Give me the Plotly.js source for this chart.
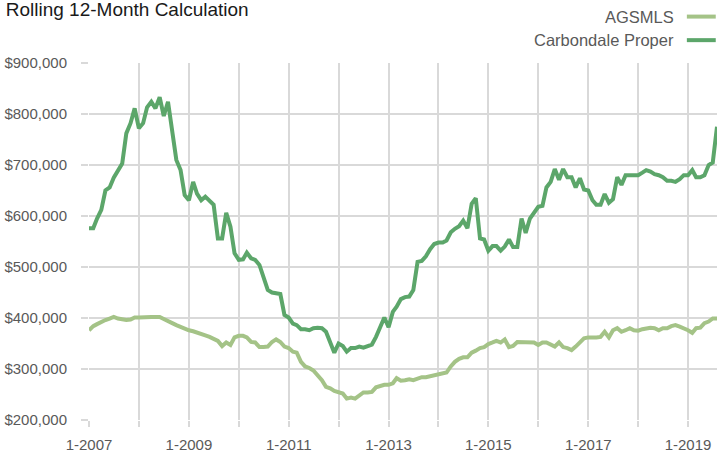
<!DOCTYPE html>
<html>
<head>
<meta charset="utf-8">
<script src="https://cdn.plot.ly/plotly-3.0.1.min.js"></script>
<style>
  html, body { margin: 0; padding: 0; background: #ffffff; }
  #chart { width: 718px; height: 453px; }
</style>
</head>
<body>
<div id="chart"></div>
<script>
// ---- Data ----
const startYear = 2007;   // first month: January 2007
const monthCount = 152;   // through August 2019

const seriesNames = ["AGSMLS", "Carbondale Proper"];

const agsmls = [
  376000, 384000, 388000, 393000, 396000, 399000, 402000, 399000, 397000, 396000, 397000, 401000,
  401000, 402000, 402000, 402000, 402000, 402000, 398000, 393000, 390000, 386000, 382000, 378000,
  376000, 374000, 372000, 369000, 366000, 363000, 360000, 355000, 345000, 352000, 347000, 362000,
  365000, 365000, 362000, 353000, 352000, 343000, 343000, 344000, 353000, 358000, 353000, 344000,
  341000, 334000, 332000, 314000, 305000, 302000, 297000, 288000, 278000, 265000, 262000, 257000,
  255000, 252000, 242000, 244000, 242000, 249000, 254000, 254000, 255000, 264000, 267000, 269000,
  269000, 272000, 282000, 277000, 278000, 280000, 278000, 282000, 284000, 284000, 286000, 288000,
  290000, 293000, 293000, 305000, 314000, 320000, 323000, 323000, 332000, 336000, 341000, 343000,
  349000, 352000, 355000, 352000, 358000, 343000, 345000, 353000, 353000, 352000, 352000, 352000,
  347000, 352000, 352000, 347000, 344000, 352000, 343000, 341000, 337000, 344000, 352000, 360000,
  362000, 361000, 362000, 363000, 373000, 362000, 376000, 380000, 373000, 376000, 380000, 376000,
  375000, 378000, 380000, 381000, 380000, 376000, 380000, 380000, 384000, 386000, 383000, 380000,
  376000, 371000, 380000, 381000, 390000, 393000, 399000, 399000
];

const carbondale = [
  576000, 576000, 595000, 612000, 650000, 656000, 675000, 688000, 703000, 762000, 782000, 811000,
  772000, 782000, 813000, 824000, 811000, 833000, 796000, 824000, 759000, 710000, 690000, 641000,
  631000, 667000, 644000, 631000, 638000, 631000, 622000, 556000, 556000, 606000, 579000, 527000,
  514000, 515000, 528000, 517000, 514000, 504000, 478000, 455000, 450000, 448000, 447000, 406000,
  401000, 389000, 386000, 378000, 378000, 376000, 380000, 381000, 380000, 373000, 353000, 332000,
  350000, 345000, 334000, 341000, 341000, 344000, 342000, 344000, 348000, 363000, 383000, 401000,
  382000, 412000, 422000, 437000, 441000, 442000, 455000, 510000, 512000, 521000, 535000, 545000,
  548000, 548000, 552000, 568000, 575000, 580000, 591000, 576000, 624000, 635000, 556000, 554000,
  532000, 541000, 541000, 532000, 540000, 554000, 539000, 539000, 595000, 567000, 595000, 608000,
  618000, 620000, 656000, 667000, 692000, 671000, 692000, 676000, 676000, 656000, 674000, 652000,
  650000, 631000, 622000, 622000, 643000, 626000, 633000, 676000, 661000, 680000, 680000, 680000,
  680000, 685000, 690000, 687000, 682000, 680000, 676000, 669000, 669000, 667000, 672000, 680000,
  680000, 690000, 676000, 676000, 680000, 700000, 705000, 775000
];

const tickYears = [2007, 2008, 2009, 2010, 2011, 2012, 2013, 2014, 2015, 2016, 2017, 2018, 2019];
const tickLabels = ["1-2007", "", "1-2009", "", "1-2011", "", "1-2013", "", "1-2015", "", "1-2017", "", "1-2019"];

const colors = ["#a4c387", "#5ca66a"];

// ---- Build month dates ----
const months = [];
for (let i = 0; i < monthCount; i++) {
  const y = startYear + Math.floor(i / 12);
  const m = (i % 12) + 1;
  months.push(y + "-" + String(m).padStart(2, "0") + "-01");
}
const tickVals = tickYears.map(y => y + "-01-01");

const traces = [
  { x: months, y: agsmls, name: seriesNames[0], type: "scatter", mode: "lines",
    line: { color: colors[0], width: 4 } },
  { x: months, y: carbondale, name: seriesNames[1], type: "scatter", mode: "lines",
    line: { color: colors[1], width: 4 } }
];

const font = "Liberation Sans, Arial, Helvetica, sans-serif";
const gridColor = "#d9d9d9";

const layout = {
  width: 718, height: 453,
  margin: { l: 89, r: 1, t: 63, b: 33, pad: 0 },
  paper_bgcolor: "#ffffff", plot_bgcolor: "#ffffff",
  showlegend: false,
  font: { family: font, size: 15, color: "#595959" },
  title: { text: "Rolling 12-Month Calculation", x: 0.008, xanchor: "left", y: 0.994, yanchor: "top",
           font: { family: font, size: 19, color: "#1a1a1a" } },
  xaxis: {
    type: "date",
    range: [months[0], months[monthCount - 1]],
    tickmode: "array", tickvals: tickVals, ticktext: tickLabels,
    showgrid: true, gridcolor: gridColor, gridwidth: 2,
    ticks: "outside", ticklen: 6, tickwidth: 2, tickcolor: gridColor,
    ticklabelstandoff: 5,
    showline: false, zeroline: false,
    tickfont: { family: font, size: 15, color: "#595959" }
  },
  yaxis: {
    range: [200000, 900000], dtick: 100000, tick0: 200000,
    tickformat: "$,.0f",
    showgrid: true, gridcolor: gridColor, gridwidth: 2,
    ticks: "outside", ticklen: 7, tickwidth: 2, tickcolor: gridColor,
    ticklabelstandoff: 11,
    showline: false, zeroline: false,
    tickfont: { family: font, size: 15, color: "#595959" }
  },
  annotations: [
    { xref: "paper", yref: "paper", x: 0.934, y: 1.13, xanchor: "right", yanchor: "middle",
      text: seriesNames[0], showarrow: false, font: { family: font, size: 16.5, color: "#595959" } },
    { xref: "paper", yref: "paper", x: 0.934, y: 1.065, xanchor: "right", yanchor: "middle",
      text: seriesNames[1], showarrow: false, font: { family: font, size: 16.5, color: "#595959" } }
  ],
  shapes: [
    { type: "line", xref: "paper", yref: "paper", x0: 0.952, x1: 0.998, y0: 1.13, y1: 1.13,
      line: { color: colors[0], width: 4 } },
    { type: "line", xref: "paper", yref: "paper", x0: 0.952, x1: 0.998, y0: 1.064, y1: 1.064,
      line: { color: colors[1], width: 4 } }
  ]
};

Plotly.newPlot("chart", traces, layout, { displayModeBar: false, staticPlot: true });
</script>
</body>
</html>
